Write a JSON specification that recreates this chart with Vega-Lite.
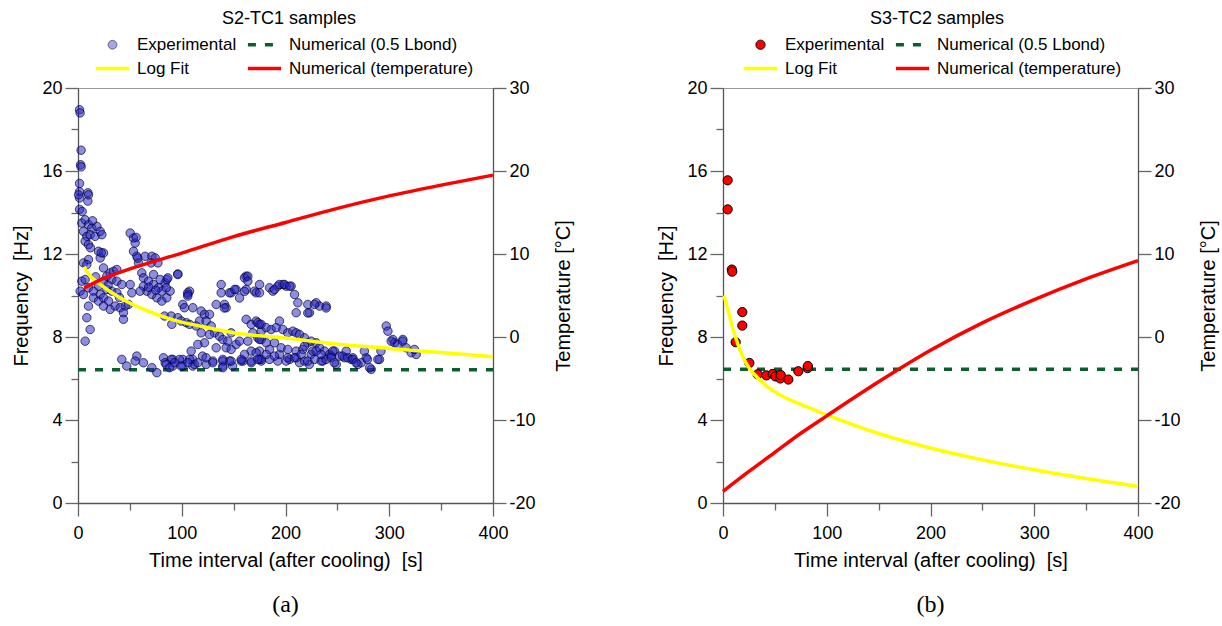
{
"$schema": "https://vega.github.io/schema/vega-lite/v6.json",
"background": "white",
"padding": {"left": 11, "top": 9, "right": 5, "bottom": 5},
"config": {
  "font": "Liberation Sans",
  "view": {"stroke": "#999", "strokeWidth": 1},
  "axis": {"grid": false, "domainColor": "#555", "tickColor": "#666", "domainWidth": 1.3, "tickWidth": 1.3,
    "labelColor": "#000", "titleColor": "#000", "labelFont": "Liberation Sans", "titleFont": "Liberation Sans",
    "labelFontSize": 18, "titleFontSize": 20, "titleFontWeight": "normal"}
},
"datasets": {
  "a": [
{"s":"Numerical (0.5 Lbond)","t":0,"f":6.42},{"s":"Numerical (0.5 Lbond)","t":400,"f":6.42},
{"s":"Log Fit","t":6,"f":11.4},{"s":"Log Fit","t":10,"f":11.05},{"s":"Log Fit","t":20,"f":10.6},{"s":"Log Fit","t":40,"f":9.9},{"s":"Log Fit","t":60,"f":9.4},{"s":"Log Fit","t":90,"f":8.85},{"s":"Log Fit","t":120,"f":8.5},{"s":"Log Fit","t":150,"f":8.2},{"s":"Log Fit","t":200,"f":7.95},{"s":"Log Fit","t":250,"f":7.65},{"s":"Log Fit","t":300,"f":7.45},{"s":"Log Fit","t":350,"f":7.25},{"s":"Log Fit","t":400,"f":7.05},
{"s":"Numerical (temperature)","t":6,"temp":5.9},{"s":"Numerical (temperature)","t":20,"temp":6.8},{"s":"Numerical (temperature)","t":50,"temp":8.2},{"s":"Numerical (temperature)","t":100,"temp":10.1},{"s":"Numerical (temperature)","t":150,"temp":12.1},{"s":"Numerical (temperature)","t":200,"temp":13.8},{"s":"Numerical (temperature)","t":250,"temp":15.5},{"s":"Numerical (temperature)","t":300,"temp":17.0},{"s":"Numerical (temperature)","t":350,"temp":18.3},{"s":"Numerical (temperature)","t":400,"temp":19.5},
{"s":"Experimental","t":1.5,"f":18.95},{"s":"Experimental","t":2,"f":18.8},{"s":"Experimental","t":3,"f":17.0},{"s":"Experimental","t":2.5,"f":16.3},{"s":"Experimental","t":3,"f":16.2},{"s":"Experimental","t":1.5,"f":15.4},{"s":"Experimental","t":1.5,"f":15.0},{"s":"Experimental","t":1.5,"f":14.7},{"s":"Experimental","t":9.5,"f":14.95},{"s":"Experimental","t":9.5,"f":14.55},{"s":"Experimental","t":1.5,"f":14.15},{"s":"Experimental","t":4,"f":14.05},{"s":"Experimental","t":0.5,"f":14.85},{"s":"Experimental","t":10.1,"f":14.85},
{"s":"Experimental","t":3.7,"f":13.49},{"s":"Experimental","t":6.9,"f":13.65},{"s":"Experimental","t":10.1,"f":13.41},{"s":"Experimental","t":13.3,"f":13.25},{"s":"Experimental","t":18.2,"f":13.33},{"s":"Experimental","t":21.4,"f":13.09},{"s":"Experimental","t":5.3,"f":13.09},{"s":"Experimental","t":8.5,"f":12.85},{"s":"Experimental","t":11.7,"f":12.93},{"s":"Experimental","t":16.5,"f":12.85},{"s":"Experimental","t":23,"f":12.93},{"s":"Experimental","t":6.9,"f":12.61},{"s":"Experimental","t":10.1,"f":12.45},{"s":"Experimental","t":19.8,"f":12.13},{"s":"Experimental","t":24.6,"f":12.05},{"s":"Experimental","t":21.4,"f":11.81},{"s":"Experimental","t":5.3,"f":11.57},{"s":"Experimental","t":10.1,"f":11.73},{"s":"Experimental","t":8.5,"f":11.49},{"s":"Experimental","t":24.6,"f":11.33},{"s":"Experimental","t":22.4,"f":12.06},{"s":"Experimental","t":14,"f":13.6},{"s":"Experimental","t":12,"f":12.3},
{"s":"Experimental","t":3.7,"f":10.69},{"s":"Experimental","t":6.9,"f":10.77},{"s":"Experimental","t":2.1,"f":10.21},{"s":"Experimental","t":5.3,"f":10.05},{"s":"Experimental","t":10.1,"f":10.37},{"s":"Experimental","t":14.9,"f":10.21},{"s":"Experimental","t":19.8,"f":10.45},{"s":"Experimental","t":24.6,"f":10.69},{"s":"Experimental","t":27.8,"f":10.93},{"s":"Experimental","t":31,"f":11.09},{"s":"Experimental","t":34.2,"f":11.17},{"s":"Experimental","t":37.4,"f":11.25},{"s":"Experimental","t":32.6,"f":10.77},{"s":"Experimental","t":37.4,"f":10.69},{"s":"Experimental","t":42.2,"f":10.53},{"s":"Experimental","t":27.8,"f":10.29},{"s":"Experimental","t":32.6,"f":10.21},{"s":"Experimental","t":37.4,"f":10.13},{"s":"Experimental","t":21.4,"f":10.05},{"s":"Experimental","t":14.9,"f":9.89},{"s":"Experimental","t":19.8,"f":9.73},{"s":"Experimental","t":24.6,"f":9.89},{"s":"Experimental","t":29.4,"f":9.73},{"s":"Experimental","t":24.6,"f":9.49},{"s":"Experimental","t":31,"f":9.33},{"s":"Experimental","t":35.8,"f":9.49},{"s":"Experimental","t":40.6,"f":9.41},{"s":"Experimental","t":45.5,"f":9.49},{"s":"Experimental","t":48.7,"f":9.57},{"s":"Experimental","t":43.8,"f":9.17},{"s":"Experimental","t":43.8,"f":8.85},{"s":"Experimental","t":10.1,"f":9.49},{"s":"Experimental","t":8.5,"f":8.93},{"s":"Experimental","t":11.7,"f":8.36},{"s":"Experimental","t":6.9,"f":7.8},{"s":"Experimental","t":51.9,"f":10.13},{"s":"Experimental","t":50.3,"f":10.53},{"s":"Experimental","t":17,"f":10.9},{"s":"Experimental","t":29,"f":10.5},{"s":"Experimental","t":40,"f":9.9},
{"s":"Experimental","t":50.3,"f":13.01},{"s":"Experimental","t":53.5,"f":12.77},{"s":"Experimental","t":55.1,"f":12.53},{"s":"Experimental","t":53.5,"f":12.13},{"s":"Experimental","t":56.7,"f":11.89},{"s":"Experimental","t":58.3,"f":11.57},{"s":"Experimental","t":64.7,"f":11.89},{"s":"Experimental","t":71.2,"f":11.89},{"s":"Experimental","t":74.4,"f":11.81},{"s":"Experimental","t":61.5,"f":11.09},{"s":"Experimental","t":63.1,"f":10.85},{"s":"Experimental","t":67.9,"f":10.69},{"s":"Experimental","t":72.8,"f":10.53},{"s":"Experimental","t":77.6,"f":10.37},{"s":"Experimental","t":80.8,"f":10.21},{"s":"Experimental","t":84,"f":10.61},{"s":"Experimental","t":85.6,"f":10.77},{"s":"Experimental","t":79.2,"f":10.77},{"s":"Experimental","t":72.8,"f":11.01},{"s":"Experimental","t":66.3,"f":10.21},{"s":"Experimental","t":71.2,"f":10.05},{"s":"Experimental","t":76,"f":9.89},{"s":"Experimental","t":80.8,"f":9.73},{"s":"Experimental","t":85.6,"f":9.89},{"s":"Experimental","t":88.8,"f":10.21},{"s":"Experimental","t":63.1,"f":10.45},{"s":"Experimental","t":59.9,"f":10.21},{"s":"Experimental","t":56,"f":12.8},{"s":"Experimental","t":57.6,"f":11.8},{"s":"Experimental","t":70.5,"f":11.57},{"s":"Experimental","t":77,"f":11.57},{"s":"Experimental","t":96.2,"f":11.04},{"s":"Experimental","t":162,"f":10.93},{"s":"Experimental","t":68,"f":10.4},{"s":"Experimental","t":75,"f":10.25},
{"s":"Experimental","t":42.2,"f":6.92},{"s":"Experimental","t":47,"f":6.6},{"s":"Experimental","t":56.7,"f":7.08},{"s":"Experimental","t":55.1,"f":6.84},{"s":"Experimental","t":63.1,"f":6.76},{"s":"Experimental","t":71.2,"f":6.52},{"s":"Experimental","t":76,"f":6.28},{"s":"Experimental","t":82.4,"f":7.0},{"s":"Experimental","t":84,"f":6.76},{"s":"Experimental","t":90.4,"f":8.61},
{"s":"Experimental","t":91.4,"f":6.92},{"s":"Experimental","t":91.4,"f":6.6},{"s":"Experimental","t":101,"f":6.92},{"s":"Experimental","t":101,"f":6.6},{"s":"Experimental","t":110.6,"f":6.92},{"s":"Experimental","t":110.6,"f":6.6},{"s":"Experimental","t":120,"f":7.08},{"s":"Experimental","t":123.6,"f":6.68},{"s":"Experimental","t":130,"f":6.84},{"s":"Experimental","t":139.6,"f":6.92},{"s":"Experimental","t":139.6,"f":6.6},{"s":"Experimental","t":149,"f":6.6},{"s":"Experimental","t":159,"f":6.84},{"s":"Experimental","t":167,"f":6.76},{"s":"Experimental","t":176.6,"f":6.84},{"s":"Experimental","t":184.6,"f":6.92},{"s":"Experimental","t":192.6,"f":6.84},{"s":"Experimental","t":204,"f":6.92},{"s":"Experimental","t":213.5,"f":6.76},{"s":"Experimental","t":223,"f":6.68},{"s":"Experimental","t":107.5,"f":6.92},{"s":"Experimental","t":112.3,"f":6.68},{"s":"Experimental","t":146,"f":6.84},{"s":"Experimental","t":157.3,"f":6.84},{"s":"Experimental","t":175,"f":6.92},{"s":"Experimental","t":194.2,"f":7.16},{"s":"Experimental","t":200.6,"f":6.84},{"s":"Experimental","t":210.3,"f":7.0},{"s":"Experimental","t":218.3,"f":6.84},{"s":"Experimental","t":224.7,"f":7.16},{"s":"Experimental","t":236,"f":6.84},
{"s":"Experimental","t":86.6,"f":10.85},{"s":"Experimental","t":85,"f":10.37},{"s":"Experimental","t":96.2,"f":11.01},{"s":"Experimental","t":138,"f":10.53},{"s":"Experimental","t":138,"f":10.13},{"s":"Experimental","t":147.6,"f":10.13},{"s":"Experimental","t":152.4,"f":10.29},{"s":"Experimental","t":160.5,"f":10.85},{"s":"Experimental","t":163.7,"f":10.93},{"s":"Experimental","t":162.1,"f":10.29},{"s":"Experimental","t":170.1,"f":10.21},{"s":"Experimental","t":171.7,"f":10.13},{"s":"Experimental","t":107.5,"f":10.21},{"s":"Experimental","t":105.9,"f":10.05},{"s":"Experimental","t":133.2,"f":9.57},{"s":"Experimental","t":141.2,"f":9.57},{"s":"Experimental","t":142.8,"f":9.41},{"s":"Experimental","t":101,"f":9.57},{"s":"Experimental","t":102.6,"f":9.41},{"s":"Experimental","t":110.7,"f":9.41},{"s":"Experimental","t":118.7,"f":9.25},{"s":"Experimental","t":121.9,"f":9.09},{"s":"Experimental","t":126.8,"f":9.09},{"s":"Experimental","t":83.4,"f":9.01},{"s":"Experimental","t":89.8,"f":9.01},{"s":"Experimental","t":96.2,"f":8.93},{"s":"Experimental","t":99.4,"f":8.77},{"s":"Experimental","t":104.3,"f":8.69},{"s":"Experimental","t":107.5,"f":8.61},{"s":"Experimental","t":113.9,"f":8.53},{"s":"Experimental","t":117.1,"f":8.77},{"s":"Experimental","t":123.5,"f":8.77},{"s":"Experimental","t":128.4,"f":8.53},{"s":"Experimental","t":131.6,"f":8.2},{"s":"Experimental","t":136.4,"f":8.04},{"s":"Experimental","t":139.6,"f":7.88},{"s":"Experimental","t":144.4,"f":7.8},{"s":"Experimental","t":147.6,"f":8.2},{"s":"Experimental","t":152.4,"f":7.64},{"s":"Experimental","t":155.7,"f":7.8},{"s":"Experimental","t":126.8,"f":8.12},{"s":"Experimental","t":118.7,"f":8.2},{"s":"Experimental","t":121.9,"f":7.72},{"s":"Experimental","t":115.5,"f":7.64},{"s":"Experimental","t":109.1,"f":7.32},{"s":"Experimental","t":133.2,"f":7.48},{"s":"Experimental","t":142.8,"f":7.48},{"s":"Experimental","t":147.6,"f":7.4},{"s":"Experimental","t":162.1,"f":8.85},{"s":"Experimental","t":166.9,"f":8.61},{"s":"Experimental","t":171.7,"f":8.77},{"s":"Experimental","t":174.9,"f":8.61},{"s":"Experimental","t":176.6,"f":8.28},{"s":"Experimental","t":168.5,"f":8.2},{"s":"Experimental","t":173.3,"f":7.96},{"s":"Experimental","t":176.6,"f":7.88},{"s":"Experimental","t":163.7,"f":7.8},{"s":"Experimental","t":166.9,"f":7.32},{"s":"Experimental","t":174.9,"f":7.32},{"s":"Experimental","t":160.5,"f":7.16},{"s":"Experimental","t":89.8,"f":6.92},{"s":"Experimental","t":97.8,"f":6.92},{"s":"Experimental","t":85,"f":6.68},{"s":"Experimental","t":93,"f":6.76},{"s":"Experimental","t":105.9,"f":6.76},{"s":"Experimental","t":115.5,"f":6.76},{"s":"Experimental","t":123.5,"f":7.0},{"s":"Experimental","t":130,"f":6.76},{"s":"Experimental","t":139.6,"f":6.84},{"s":"Experimental","t":147.6,"f":6.84},{"s":"Experimental","t":157.3,"f":6.92},{"s":"Experimental","t":166.9,"f":6.84},{"s":"Experimental","t":176.6,"f":6.92},{"s":"Experimental","t":99.4,"f":6.6},{"s":"Experimental","t":88.2,"f":6.52},{"s":"Experimental","t":139.6,"f":6.52},
{"s":"Experimental","t":175,"f":10.53},{"s":"Experimental","t":184.6,"f":10.37},{"s":"Experimental","t":187.8,"f":10.21},{"s":"Experimental","t":192.6,"f":10.45},{"s":"Experimental","t":197.4,"f":10.53},{"s":"Experimental","t":200.6,"f":10.45},{"s":"Experimental","t":205.4,"f":10.45},{"s":"Experimental","t":208.7,"f":10.05},{"s":"Experimental","t":211.9,"f":9.65},{"s":"Experimental","t":210.3,"f":9.17},{"s":"Experimental","t":221.5,"f":9.57},{"s":"Experimental","t":223.1,"f":9.17},{"s":"Experimental","t":229.6,"f":9.65},{"s":"Experimental","t":232.8,"f":9.49},{"s":"Experimental","t":239.2,"f":9.49},
{"s":"Experimental","t":173.3,"f":8.69},{"s":"Experimental","t":176.5,"f":8.61},{"s":"Experimental","t":181.4,"f":8.45},{"s":"Experimental","t":186.2,"f":8.36},{"s":"Experimental","t":191,"f":8.45},{"s":"Experimental","t":194.2,"f":8.77},{"s":"Experimental","t":197.4,"f":8.36},{"s":"Experimental","t":202.2,"f":8.2},{"s":"Experimental","t":207.1,"f":8.28},{"s":"Experimental","t":210.3,"f":8.2},{"s":"Experimental","t":213.5,"f":8.12},{"s":"Experimental","t":218.3,"f":7.96},{"s":"Experimental","t":221.5,"f":7.72},{"s":"Experimental","t":224.7,"f":7.8},{"s":"Experimental","t":229.6,"f":7.72},{"s":"Experimental","t":175,"f":7.88},{"s":"Experimental","t":181.4,"f":7.72},{"s":"Experimental","t":189.4,"f":7.72},{"s":"Experimental","t":184.6,"f":7.4},{"s":"Experimental","t":195.8,"f":7.48},{"s":"Experimental","t":202.2,"f":7.4},{"s":"Experimental","t":210.3,"f":7.32},{"s":"Experimental","t":216.7,"f":7.4},{"s":"Experimental","t":218.3,"f":7.56},{"s":"Experimental","t":226.3,"f":7.32},{"s":"Experimental","t":232.8,"f":7.48},{"s":"Experimental","t":237.6,"f":7.32},{"s":"Experimental","t":242.4,"f":7.16},{"s":"Experimental","t":247.3,"f":7.32},{"s":"Experimental","t":252.1,"f":7.08},{"s":"Experimental","t":256.9,"f":7.0},{"s":"Experimental","t":263.3,"f":6.92},{"s":"Experimental","t":171.7,"f":7.24},{"s":"Experimental","t":173.3,"f":6.92},{"s":"Experimental","t":181.4,"f":7.16},{"s":"Experimental","t":189.4,"f":7.08},{"s":"Experimental","t":202.2,"f":7.0},{"s":"Experimental","t":208.7,"f":7.0},{"s":"Experimental","t":215.1,"f":7.16},{"s":"Experimental","t":221.5,"f":6.84},{"s":"Experimental","t":228,"f":6.92},{"s":"Experimental","t":234.4,"f":6.84},{"s":"Experimental","t":239.2,"f":6.92},{"s":"Experimental","t":244,"f":7.08},
{"s":"Experimental","t":258.5,"f":7.32},{"s":"Experimental","t":264.9,"f":7.0},{"s":"Experimental","t":269.8,"f":6.68},{"s":"Experimental","t":277.8,"f":7.0},{"s":"Experimental","t":248.9,"f":6.68},{"s":"Experimental","t":273,"f":6.76},{"s":"Experimental","t":282.6,"f":6.44},{"s":"Experimental","t":290.6,"f":6.92},{"s":"Experimental","t":297.1,"f":8.53},{"s":"Experimental","t":298.7,"f":8.28},{"s":"Experimental","t":303.5,"f":7.88},{"s":"Experimental","t":305.1,"f":7.72},{"s":"Experimental","t":313.1,"f":7.88},{"s":"Experimental","t":316.3,"f":7.48},{"s":"Experimental","t":321.2,"f":7.24},{"s":"Experimental","t":326,"f":7.16},{"s":"Experimental","t":229.5,"f":7.32},{"s":"Experimental","t":234.4,"f":7.16},
{"s":"Experimental","t":105.8,"f":10.13},{"s":"Experimental","t":105.8,"f":9.97},{"s":"Experimental","t":141,"f":9.4},{"s":"Experimental","t":146,"f":10.13},{"s":"Experimental","t":151,"f":10.29},{"s":"Experimental","t":155.7,"f":9.88},{"s":"Experimental","t":160.5,"f":10.2},{"s":"Experimental","t":163.7,"f":10.69},{"s":"Experimental","t":175,"f":10.13},{"s":"Experimental","t":189.4,"f":10.29},{"s":"Experimental","t":194,"f":10.53},{"s":"Experimental","t":199,"f":10.53},{"s":"Experimental","t":204,"f":10.45},{"s":"Experimental","t":221.5,"f":9.16},{"s":"Experimental","t":228,"f":9.57},{"s":"Experimental","t":239.2,"f":9.4},
{"s":"Experimental","t":301.9,"f":7.8},{"s":"Experimental","t":308.2,"f":7.64},{"s":"Experimental","t":313,"f":7.8},{"s":"Experimental","t":324.3,"f":7.4},{"s":"Experimental","t":245.6,"f":7.32},{"s":"Experimental","t":244,"f":7.0},{"s":"Experimental","t":247,"f":6.76},{"s":"Experimental","t":255,"f":7.08},{"s":"Experimental","t":260,"f":7.0},{"s":"Experimental","t":265,"f":6.92},{"s":"Experimental","t":268,"f":6.76},{"s":"Experimental","t":276,"f":7.32},{"s":"Experimental","t":279,"f":6.92},{"s":"Experimental","t":281,"f":6.52},{"s":"Experimental","t":289,"f":6.92},{"s":"Experimental","t":292,"f":7.32}
  ],
  "b": [
{"s":"Numerical (0.5 Lbond)","t":0,"f":6.45},{"s":"Numerical (0.5 Lbond)","t":400,"f":6.45},
{"s":"Log Fit","t":1,"f":10.0},{"s":"Log Fit","t":5,"f":9.25},{"s":"Log Fit","t":9,"f":8.5},{"s":"Log Fit","t":14,"f":7.7},{"s":"Log Fit","t":20,"f":6.95},{"s":"Log Fit","t":26,"f":6.45},{"s":"Log Fit","t":33,"f":6.05},{"s":"Log Fit","t":43,"f":5.6},{"s":"Log Fit","t":55,"f":5.2},{"s":"Log Fit","t":75,"f":4.75},{"s":"Log Fit","t":100,"f":4.25},{"s":"Log Fit","t":150,"f":3.35},{"s":"Log Fit","t":200,"f":2.65},{"s":"Log Fit","t":250,"f":2.08},{"s":"Log Fit","t":300,"f":1.6},{"s":"Log Fit","t":350,"f":1.18},{"s":"Log Fit","t":400,"f":0.8},
{"s":"Numerical (temperature)","t":0,"temp":-18.6},{"s":"Numerical (temperature)","t":25,"temp":-16.2},{"s":"Numerical (temperature)","t":50,"temp":-13.9},{"s":"Numerical (temperature)","t":75,"temp":-11.6},{"s":"Numerical (temperature)","t":100,"temp":-9.5},{"s":"Numerical (temperature)","t":150,"temp":-5.4},{"s":"Numerical (temperature)","t":200,"temp":-1.6},{"s":"Numerical (temperature)","t":250,"temp":1.7},{"s":"Numerical (temperature)","t":300,"temp":4.5},{"s":"Numerical (temperature)","t":350,"temp":7.0},{"s":"Numerical (temperature)","t":400,"temp":9.2},
{"s":"Experimental","t":4.5,"f":15.55},{"s":"Experimental","t":4.5,"f":14.15},{"s":"Experimental","t":8.5,"f":11.25},{"s":"Experimental","t":8.9,"f":11.15},{"s":"Experimental","t":12.2,"f":7.75},{"s":"Experimental","t":18.6,"f":9.2},{"s":"Experimental","t":18.6,"f":8.55},{"s":"Experimental","t":25.4,"f":6.75},{"s":"Experimental","t":33.4,"f":6.2},{"s":"Experimental","t":41.8,"f":6.15},{"s":"Experimental","t":47.9,"f":6.22},{"s":"Experimental","t":50.5,"f":6.1},{"s":"Experimental","t":55.3,"f":6.0},{"s":"Experimental","t":55.6,"f":6.17},{"s":"Experimental","t":63,"f":5.95},{"s":"Experimental","t":72.6,"f":6.35},{"s":"Experimental","t":81.6,"f":6.5},{"s":"Experimental","t":81.8,"f":6.6}
  ]
},
"spacing": 82,
"resolve": {"scale": {"color": "independent"}, "legend": {"color": "independent"}},
"hconcat": [
{
  "width": 415, "height": 415,
  "title": {"text": "(a)", "orient": "bottom", "frame": "group", "anchor": "middle", "font": "Liberation Serif", "fontSize": 24, "fontWeight": "normal", "color": "#000", "offset": 23},
  "data": {"name": "a"},
  "encoding": {"x": {"field": "t", "type": "quantitative", "scale": {"domain": [0, 400], "nice": false, "zero": false},
    "axis": {"title": "Time interval (after cooling) \u00a0[s]", "values": [0,50,100,150,200,250,300,350,400], "labelExpr": "datum.value % 100 === 0 ? datum.label : ''",
      "tickSize": {"condition": {"test": "datum.value % 100 === 0", "value": 13}, "value": 7}, "labelPadding": 8, "titlePadding": 8, "labelFlush": false}}},
  "layer": [
    {
      "encoding": {
        "y": {"field": "f", "type": "quantitative", "scale": {"domain": [0, 20], "nice": false, "zero": false},
          "axis": {"title": "Frequency \u00a0[Hz]", "orient": "left", "values": [0,2,4,6,8,10,12,14,16,18,20], "labelExpr": "datum.value % 4 === 0 ? datum.label : ''",
            "tickSize": {"condition": {"test": "datum.value % 4 === 0", "value": 13}, "value": 7}, "labelPadding": 3, "titlePadding": 10, "labelFlush": false}}
      },
      "layer": [
        {"transform": [{"filter": "datum.s === 'Numerical (0.5 Lbond)'"}], "mark": {"type": "line", "strokeWidth": 3.5, "strokeDash": [8, 9]},
         "encoding": {"color": {"field": "s", "type": "nominal",
          "scale": {"domain": ["Experimental", "Log Fit", "Numerical (0.5 Lbond)", "Numerical (temperature)"], "range": ["#555555", "#ffff00", "#0b5e30", "#ff0000"]},
          "legend": {"title": "S2-TC1 samples", "orient": "none", "legendX": 26, "legendY": -78, "columns": 2, "columnPadding": 3, "rowPadding": 6,
            "symbolSize": 1100, "symbolStrokeWidth": 3.5, "labelOffset": 16, "labelLimit": 400,
            "labelFont": "Liberation Sans", "labelFontSize": 17, "labelColor": "#000",
            "titleFont": "Liberation Sans", "titleFontSize": 18, "titleFontWeight": "normal", "titleColor": "#000", "titleAnchor": "middle", "titleAlign": "center", "titlePadding": 8,
            "encode": {"symbols": {"update": {
              "shape": {"signal": "datum.value === 'Experimental' ? 'circle' : 'stroke'"},
              "size": {"signal": "datum.value === 'Experimental' ? 75 : 1100"},
              "fill": {"value": "#a4a4f2"},
              "fillOpacity": {"value": 1},
              "strokeWidth": {"signal": "datum.value === 'Experimental' ? 1 : 3.5"},
              "strokeDash": {"signal": "datum.value === 'Numerical (0.5 Lbond)' ? [8, 9] : [1, 0]"},
              "opacity": {"value": 1}}}}}}}},
        {"transform": [{"filter": "datum.s === 'Experimental'"}], "mark": {"type": "point", "filled": true, "fill": "#2424cc", "size": 72, "opacity": 1, "fillOpacity": 0.52, "stroke": "#000022", "strokeOpacity": 0.75, "strokeWidth": 0.9}},
        {"transform": [{"filter": "datum.s === 'Log Fit'"}], "mark": {"type": "line", "strokeWidth": 3.5, "interpolate": "monotone"},
         "encoding": {"color": {"field": "s", "type": "nominal",
          "scale": {"domain": ["Experimental", "Log Fit", "Numerical (0.5 Lbond)", "Numerical (temperature)"], "range": ["#555555", "#ffff00", "#0b5e30", "#ff0000"]}}}}
      ]
    },
    {
      "transform": [{"filter": "datum.s === 'Numerical (temperature)'"}],
      "mark": {"type": "line", "strokeWidth": 3.5, "interpolate": "monotone"},
      "encoding": {
        "y": {"field": "temp", "type": "quantitative", "scale": {"domain": [-20, 30], "nice": false, "zero": false},
          "axis": {"title": "Temperature [°C]", "orient": "right", "values": [-20,-10,0,10,20,30], "labelExpr": "datum.value < 0 ? '-' + abs(datum.value) : '' + datum.value",
            "tickSize": 13, "labelPadding": 3, "titlePadding": 18, "titleAngle": -90, "titleBaseline": "top", "labelFlush": false}},
        "color": {"field": "s", "type": "nominal",
          "scale": {"domain": ["Experimental", "Log Fit", "Numerical (0.5 Lbond)", "Numerical (temperature)"], "range": ["#555555", "#ffff00", "#0b5e30", "#ff0000"]}}
      }
    }
  ],
  "resolve": {"scale": {"y": "independent"}}
},
{
  "width": 415, "height": 415,
  "title": {"text": "(b)", "orient": "bottom", "frame": "group", "anchor": "middle", "font": "Liberation Serif", "fontSize": 24, "fontWeight": "normal", "color": "#000", "offset": 23},
  "data": {"name": "b"},
  "encoding": {"x": {"field": "t", "type": "quantitative", "scale": {"domain": [0, 400], "nice": false, "zero": false},
    "axis": {"title": "Time interval (after cooling) \u00a0[s]", "values": [0,50,100,150,200,250,300,350,400], "labelExpr": "datum.value % 100 === 0 ? datum.label : ''",
      "tickSize": {"condition": {"test": "datum.value % 100 === 0", "value": 13}, "value": 7}, "labelPadding": 8, "titlePadding": 8, "labelFlush": false}}},
  "layer": [
    {
      "encoding": {
        "y": {"field": "f", "type": "quantitative", "scale": {"domain": [0, 20], "nice": false, "zero": false},
          "axis": {"title": "Frequency \u00a0[Hz]", "orient": "left", "values": [0,2,4,6,8,10,12,14,16,18,20], "labelExpr": "datum.value % 4 === 0 ? datum.label : ''",
            "tickSize": {"condition": {"test": "datum.value % 4 === 0", "value": 13}, "value": 7}, "labelPadding": 3, "titlePadding": 10, "labelFlush": false}}
      },
      "layer": [
        {"transform": [{"filter": "datum.s === 'Numerical (0.5 Lbond)'"}], "mark": {"type": "line", "strokeWidth": 3.5, "strokeDash": [8, 9]},
         "encoding": {"color": {"field": "s", "type": "nominal",
          "scale": {"domain": ["Experimental", "Log Fit", "Numerical (0.5 Lbond)", "Numerical (temperature)"], "range": ["#000000", "#ffff00", "#0b5e30", "#ff0000"]},
          "legend": {"title": "S3-TC2 samples", "orient": "none", "legendX": 29, "legendY": -78, "columns": 2, "columnPadding": 3, "rowPadding": 6,
            "symbolSize": 1100, "symbolStrokeWidth": 3.5, "labelOffset": 16, "labelLimit": 400,
            "labelFont": "Liberation Sans", "labelFontSize": 17, "labelColor": "#000",
            "titleFont": "Liberation Sans", "titleFontSize": 18, "titleFontWeight": "normal", "titleColor": "#000", "titleAnchor": "middle", "titleAlign": "center", "titlePadding": 8,
            "encode": {"symbols": {"update": {
              "shape": {"signal": "datum.value === 'Experimental' ? 'circle' : 'stroke'"},
              "size": {"signal": "datum.value === 'Experimental' ? 85 : 1100"},
              "fill": {"value": "#ff0000"},
              "fillOpacity": {"value": 1},
              "strokeWidth": {"signal": "datum.value === 'Experimental' ? 1 : 3.5"},
              "strokeDash": {"signal": "datum.value === 'Numerical (0.5 Lbond)' ? [8, 9] : [1, 0]"},
              "opacity": {"value": 1}}}}}}}},
        {"transform": [{"filter": "datum.s === 'Experimental'"}], "mark": {"type": "point", "filled": true, "fill": "#ff0000", "size": 85, "opacity": 1, "fillOpacity": 1, "stroke": "#000", "strokeWidth": 1}},
        {"transform": [{"filter": "datum.s === 'Log Fit'"}], "mark": {"type": "line", "strokeWidth": 3.5, "interpolate": "monotone"},
         "encoding": {"color": {"field": "s", "type": "nominal",
          "scale": {"domain": ["Experimental", "Log Fit", "Numerical (0.5 Lbond)", "Numerical (temperature)"], "range": ["#000000", "#ffff00", "#0b5e30", "#ff0000"]}}}}
      ]
    },
    {
      "transform": [{"filter": "datum.s === 'Numerical (temperature)'"}],
      "mark": {"type": "line", "strokeWidth": 3.5, "interpolate": "monotone"},
      "encoding": {
        "y": {"field": "temp", "type": "quantitative", "scale": {"domain": [-20, 30], "nice": false, "zero": false},
          "axis": {"title": "Temperature [°C]", "orient": "right", "values": [-20,-10,0,10,20,30], "labelExpr": "datum.value < 0 ? '-' + abs(datum.value) : '' + datum.value",
            "tickSize": 13, "labelPadding": 3, "titlePadding": 18, "titleAngle": -90, "titleBaseline": "top", "labelFlush": false}},
        "color": {"field": "s", "type": "nominal",
          "scale": {"domain": ["Experimental", "Log Fit", "Numerical (0.5 Lbond)", "Numerical (temperature)"], "range": ["#000000", "#ffff00", "#0b5e30", "#ff0000"]}}
      }
    }
  ],
  "resolve": {"scale": {"y": "independent"}}
}
]
}
